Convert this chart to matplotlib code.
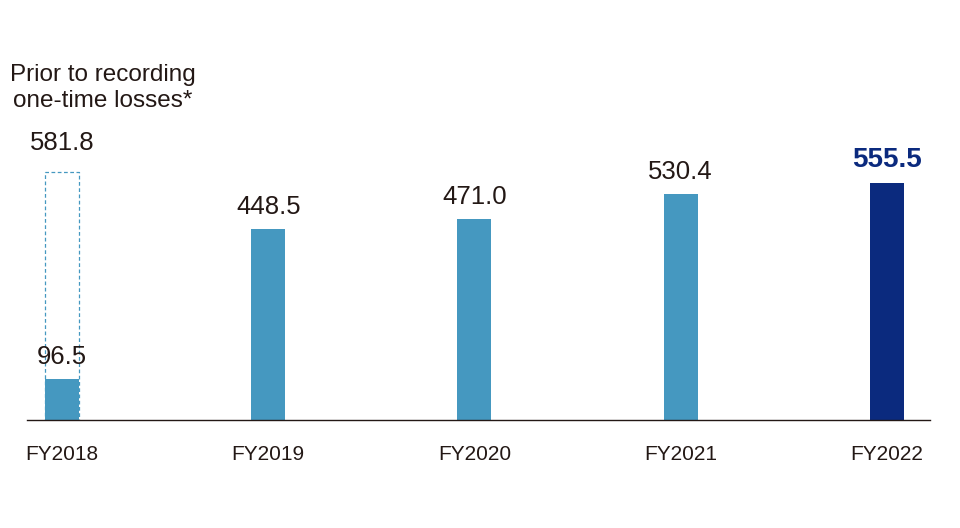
import matplotlib
matplotlib.use('Agg')
import matplotlib.pyplot as plt

years = ["FY2018", "FY2019", "FY2020", "FY2021", "FY2022"]
values = [96.5, 448.5, 471.0, 530.4, 555.5]
before_losses = 581.8  # FY2018, prior to recording one-time losses
labels = ["96.5", "448.5", "471.0", "530.4", "555.5"]

LIGHT = "#4598c0"
NAVY = "#0b2a7e"
TEXT = "#231815"

plt.rcParams['font.family'] = ['Liberation Sans', 'DejaVu Sans']

fig = plt.figure(figsize=(9.6, 5.28), dpi=100)
ax = fig.add_axes([0.028, 0.2045, 0.941, 0.682])

x = list(range(len(years)))
colors = [LIGHT] * (len(years) - 1) + [NAVY]
w = 0.165

# dashed outline for the pre-loss FY2018 figure
ax.bar(x[0], before_losses, width=w, facecolor='none', edgecolor=LIGHT,
       linestyle=(0, (3, 2)), linewidth=0.9, zorder=1)
ax.bar(x, values, width=w, color=colors, zorder=2)

for xi, v, lab in zip(x, values, labels):
    last = xi == x[-1]
    ax.annotate(lab, (xi, v), xytext=(0, 10), textcoords='offset pixels',
                ha='center', va='bottom', fontsize=20 if last else 18.5,
                color=NAVY if last else TEXT,
                fontweight='bold' if last else 'normal', zorder=3)

ax.annotate(f"{before_losses:.1f}", (x[0], before_losses), xytext=(0, 17),
            textcoords='offset pixels', ha='center', va='bottom',
            fontsize=18.5, color=TEXT)
ax.annotate("Prior to recording\none-time losses*", (x[0], before_losses),
            xytext=(41, 60), textcoords='offset pixels', ha='center',
            va='bottom', fontsize=17.5, color=TEXT, linespacing=1.2)

ax.set_xlim(-0.17, 4.21)
ax.set_ylim(0, 843.8)
ax.set_xticks(x)
ax.set_xticklabels(years, fontsize=15, color=TEXT)
ax.tick_params(axis='x', length=0, pad=18)
ax.set_yticks([])
for s in ['top', 'right', 'left']:
    ax.spines[s].set_visible(False)
ax.spines['bottom'].set_color(TEXT)
ax.spines['bottom'].set_linewidth(1.0)

fig.savefig("out.png", dpi=100)
